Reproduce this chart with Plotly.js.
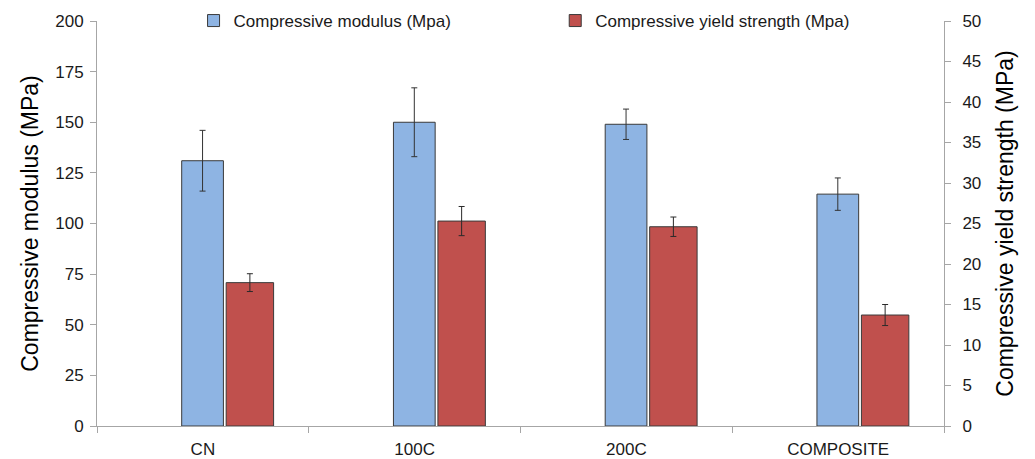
<!DOCTYPE html>
<html>
<head>
<meta charset="utf-8">
<script src="https://cdn.plot.ly/plotly-3.0.1.min.js"></script>
<style>
  html, body { margin: 0; padding: 0; background: #ffffff; }
  #chart { width: 1035px; height: 459px; }
</style>
</head>
<body>
<div id="chart"></div>
<script>
// Sample groups along the x axis
const samples = ['CN', '100C', '200C', 'COMPOSITE'];

// Compressive modulus (MPa) with standard deviation
const modulus = [131, 150, 149, 114.5];
const modulusErr = [15, 17, 7.5, 8];

// Compressive yield strength (MPa) with standard deviation
const yieldStrength = [17.7, 25.3, 24.6, 13.7];
const yieldErr = [1.1, 1.8, 1.2, 1.3];

// Axis tick values
const leftTicks = [0, 25, 50, 75, 100, 125, 150, 175, 200];
const rightTicks = [0, 5, 10, 15, 20, 25, 30, 35, 40, 45, 50];

const FONT = 'Arial, "Liberation Sans", sans-serif';
const AXIS_GREY = '#a6a6a6';
const TEXT = '#1a1a1a';

const traces = [
  {
    type: 'bar',
    name: 'Compressive modulus (Mpa)',
    x: samples,
    y: modulus,
    yaxis: 'y',
    offset: -0.1,
    width: 0.197,
    marker: { color: '#8eb4e3', line: { color: '#3a3a3a', width: 1 } },
    error_y: { type: 'data', array: modulusErr, visible: true, color: '#333333', thickness: 1, width: 3 },
    legend: 'legend'
  },
  {
    type: 'bar',
    name: 'Compressive yield strength (Mpa)',
    x: samples,
    y: yieldStrength,
    yaxis: 'y2',
    offset: 0.11,
    width: 0.224,
    marker: { color: '#c0504d', line: { color: '#3a3a3a', width: 1 } },
    error_y: { type: 'data', array: yieldErr, visible: true, color: '#2a2a2a', thickness: 1, width: 3 },
    legend: 'legend2'
  }
];

const legendCommon = {
  orientation: 'h',
  yref: 'paper',
  y: 1,
  yanchor: 'middle',
  xanchor: 'left',
  bgcolor: 'rgba(0,0,0,0)',
  font: { family: FONT, size: 17, color: TEXT },
  itemwidth: 30,
  tracegroupgap: 0
};

const layout = {
  width: 1035,
  height: 459,
  margin: { l: 97, r: 91, t: 21, b: 33, pad: 0, autoexpand: false },
  paper_bgcolor: '#ffffff',
  plot_bgcolor: '#ffffff',
  font: { family: FONT, color: TEXT },
  barmode: 'overlay',
  showlegend: true,
  legend: Object.assign({}, legendCommon, { x: 0.114 }),
  legend2: Object.assign({}, legendCommon, { x: 0.541 }),
  xaxis: {
    type: 'category',
    range: [-0.5, 3.5],
    showline: true,
    linecolor: AXIS_GREY,
    linewidth: 1,
    ticks: 'outside',
    tickson: 'boundaries',
    ticklen: 6,
    tickcolor: AXIS_GREY,
    ticklabelstandoff: 8,
    showgrid: false,
    zeroline: false,
    tickfont: { family: FONT, size: 17, color: TEXT }
  },
  yaxis: {
    range: [0, 200],
    tickvals: leftTicks,
    ticktext: leftTicks.map(String),
    showline: true,
    linecolor: AXIS_GREY,
    linewidth: 1,
    ticks: 'outside',
    ticklen: 6,
    tickcolor: AXIS_GREY,
    ticklabelstandoff: 3,
    showgrid: false,
    zeroline: false,
    tickfont: { family: FONT, size: 17, color: TEXT },
    title: { text: 'Compressive modulus (MPa)', font: { family: FONT, size: 23, color: '#000000' }, standoff: 10 }
  },
  yaxis2: {
    overlaying: 'y',
    side: 'right',
    range: [0, 50],
    tickvals: rightTicks,
    ticktext: rightTicks.map(String),
    showline: true,
    linecolor: AXIS_GREY,
    linewidth: 1,
    ticks: 'outside',
    ticklen: 6,
    tickcolor: AXIS_GREY,
    ticklabelstandoff: 8,
    showgrid: false,
    zeroline: false,
    tickfont: { family: FONT, size: 17, color: TEXT },
    title: { text: 'Compressive yield strength (MPa)', font: { family: FONT, size: 23, color: '#000000' }, standoff: 16 }
  }
};

Plotly.newPlot('chart', traces, layout, { displayModeBar: false, staticPlot: true });
</script>
</body>
</html>
